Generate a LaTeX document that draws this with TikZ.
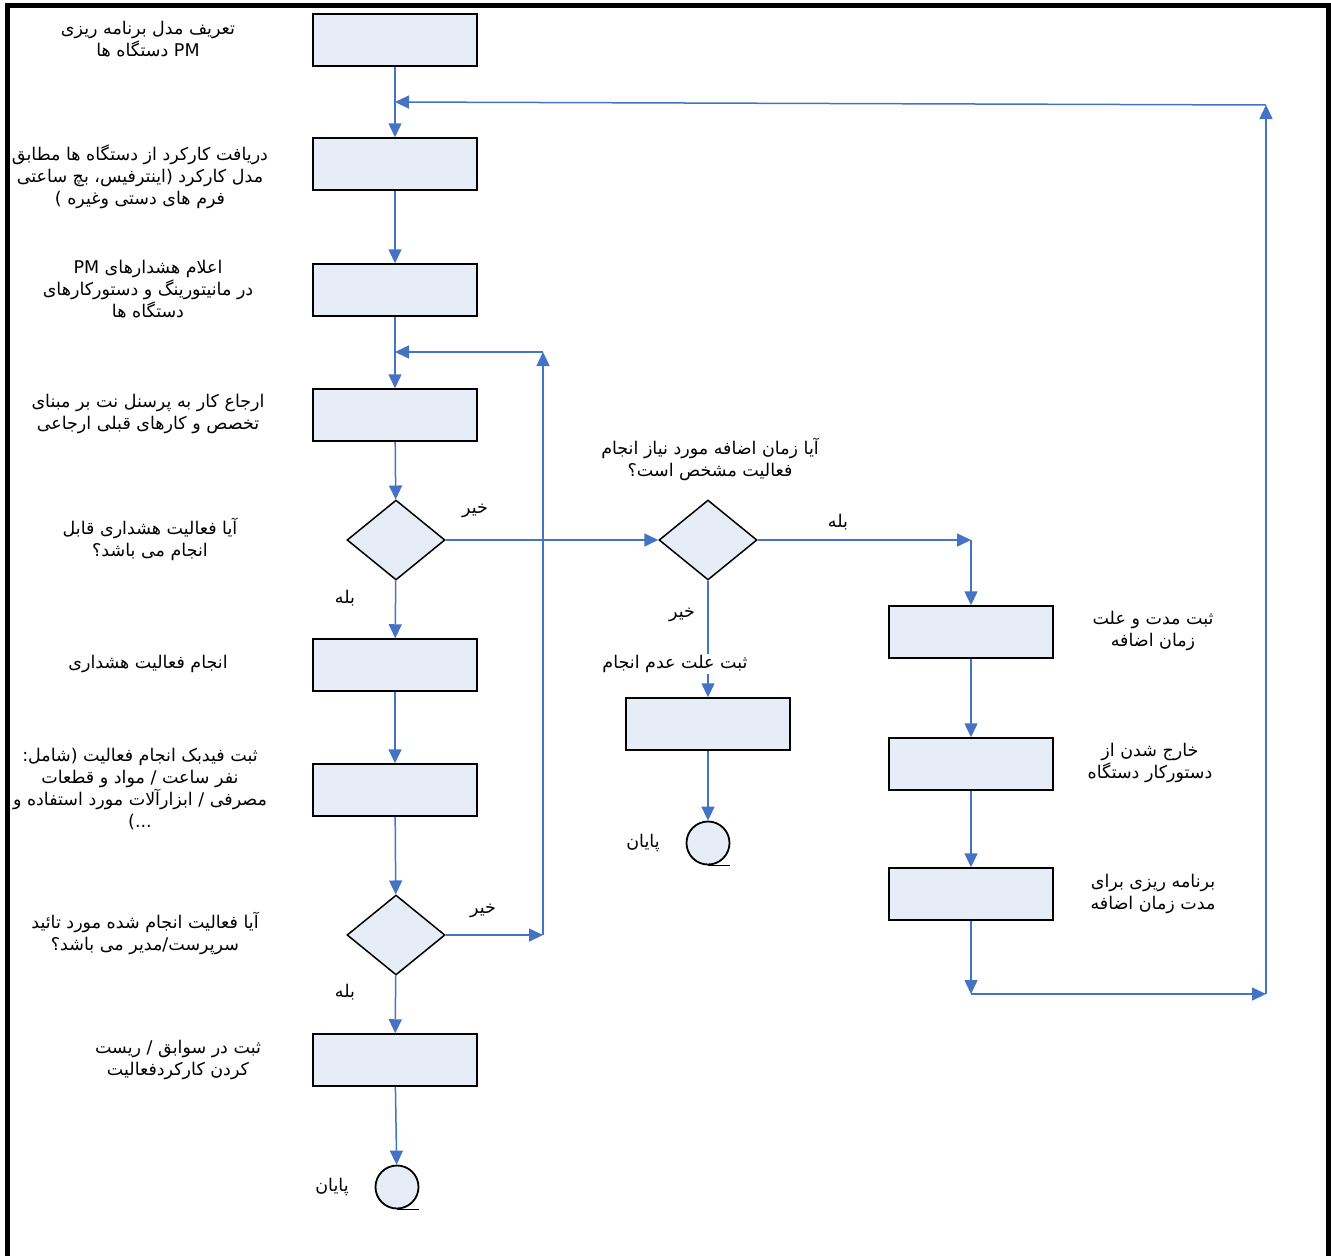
\documentclass[tikz,border=0pt]{standalone}
\usepackage{fontspec}
\usetikzlibrary{shapes.geometric,arrows.meta}
\newfontfamily\arabicfont[Script=Arabic]{DejaVu Sans}
\TeXXeTstate=1
\definecolor{flowblue}{RGB}{68,114,196}
\definecolor{boxfill}{RGB}{230,237,247}
\newcommand{\fa}[1]{\beginR #1\endR}

\begin{document}
\begin{tikzpicture}[x=1pt,y=-1pt,
    box/.style={draw=black, fill=boxfill, line width=1.5pt, minimum width=164pt, minimum height=52pt, inner sep=0pt},
    decision/.style={diamond, draw=black, fill=boxfill, line width=1.5pt, minimum width=98pt, minimum height=80pt, inner sep=0pt},
    stopper/.style={circle, draw=black, fill=boxfill, line width=1.8pt, minimum size=43pt, inner sep=0pt},
    txt/.style={font=\arabicfont\fontsize{17.5}{22}\selectfont, align=center, inner sep=1pt},
    flow/.style={draw=flowblue, line width=1.5pt, -{Triangle[length=14pt,width=13pt]}}]
            \useasboundingbox (0,0) rectangle (1331,1256);

            \node[box] (b1) at (395,40) {};
            \node[box] (b2) at (395,164) {};
            \node[box] (b3) at (395,290) {};
            \node[box] (b4) at (395,415) {};
            \node[decision] (d1) at (396,540) {};
            \node[box] (b5) at (395,665) {};
            \node[box] (b6) at (395,790) {};
            \node[decision] (d2) at (396,935) {};
            \node[box] (b7) at (395,1060) {};
            \node[stopper] (e1) at (397,1187) {};
            \node[decision] (d3) at (708,540) {};
            \node[box] (b8) at (708,724) {};
            \node[stopper] (e2) at (708,843) {};
            \node[box] (b9) at (971,632) {};
            \node[box] (b10) at (971,764) {};
            \node[box] (b11) at (971,894) {};

            \coordinate (j1) at (395,102);
            \coordinate (j2) at (395,352);
            \coordinate (r1) at (543,935);
            \coordinate (r2) at (543,352);
            \coordinate (s1) at (971,540);
            \coordinate (t1) at (971,994);
            \coordinate (t2) at (1266,994);
            \coordinate (t3) at (1266,105);

            \draw[flow] (b1) -- (b2);
            \draw[flow] (b2) -- (b3);
            \draw[flow] (b3) -- (b4);
            \draw[flow] (b4) -- (d1);
            \draw[flow] (d1) -- (b5);
            \draw[flow] (b5) -- (b6);
            \draw[flow] (b6) -- (d2);
            \draw[flow] (d2) -- (b7);
            \draw[flow] (b7) -- (e1);
            \draw[flow] (d2.east) -- (r1);
            \draw[flow] (r1) -- (r2);
            \draw[flow] (r2) -- (j2);
            \draw[flow] (d1) -- (d3);
            \draw[flow] (d3.east) -- (s1);
            \draw[flow] (s1) -- (b9);
            \draw[flow] (d3) -- (b8);
            \draw[flow] (b8) -- (e2);
            \draw[flow] (b9) -- (b10);
            \draw[flow] (b10) -- (b11);
            \draw[flow] (b11) -- (t1);
            \draw[flow] (t1) -- (t2);
            \draw[flow] (t2) -- (t3);
            \draw[flow] (t3) -- (j1);

            \draw[black, line width=1.8pt] (e1.south) -- ++(22,0);
            \draw[black, line width=1.8pt] (e2.south) -- ++(22,0);

            \node[txt] (l1) at (148,39) {\fa{تعریف مدل برنامه ریزی}\\\fa{\beginL PM\endL{} دستگاه ها}};
            \node[txt] (l2) at (140,177) {\fa{دریافت کارکرد از دستگاه ها مطابق}\\\fa{مدل کارکرد (اینترفیس، بچ ساعتی}\\\fa{فرم های دستی وغیره )}};
            \node[txt] (l3) at (148,289) {\fa{اعلام هشدارهای \beginL PM\endL}\\\fa{در مانیتورینگ و دستورکارهای}\\\fa{دستگاه ها}};
            \node[txt] (l4) at (148,414) {\fa{ارجاع کار به پرسنل نت بر مبنای}\\\fa{تخصص و کارهای قبلی ارجاعی}};
            \node[txt] (l5) at (150,539) {\fa{آیا فعالیت هشداری قابل}\\\fa{انجام می باشد؟}};
            \node[txt] (l6) at (148,664) {\fa{انجام فعالیت هشداری}};
            \node[txt] (l7) at (140,789) {\fa{ثبت فیدبک انجام فعالیت (شامل:}\\\fa{نفر ساعت / مواد و قطعات}\\\fa{مصرفی / ابزارآلات مورد استفاده و}\\\fa{...)}};
            \node[txt] (l8) at (145,933) {\fa{آیا فعالیت انجام شده مورد تائید}\\\fa{سرپرست/مدیر می باشد؟}};
            \node[txt] (l9) at (178,1060) {\fa{ثبت در سوابق / ریست}\\\fa{کردن کارکردفعالیت}};
            \node[txt] (lm) at (710,459) {\fa{آیا زمان اضافه مورد نیاز انجام}\\\fa{فعالیت مشخص است؟}};
            \node[txt, fill=white] (lb8) at (675,664) {\fa{ثبت علت عدم انجام}};
            \node[txt] (lr1) at (1153,631) {\fa{ثبت مدت و علت}\\\fa{زمان اضافه}};
            \node[txt] (lr2) at (1150,763) {\fa{خارج شدن از}\\\fa{دستورکار دستگاه}};
            \node[txt] (lr3) at (1153,894) {\fa{برنامه ریزی برای}\\\fa{مدت زمان اضافه}};

            \node[txt] (y1) at (345,598) {\fa{بله}};
            \node[txt] (n1) at (475,511) {\fa{خیر}};
            \node[txt] (y2) at (838,522) {\fa{بله}};
            \node[txt] (n2) at (682,615) {\fa{خیر}};
            \node[txt] (n3) at (483,911) {\fa{خیر}};
            \node[txt] (y3) at (345,992) {\fa{بله}};
            \node[txt] (p1) at (332,1187) {\fa{پایان}};
            \node[txt] (p2) at (643,843) {\fa{پایان}};

            \draw[black, line width=5pt] (7.5,1256) -- (7.5,5) -- (1328.5,5) -- (1328.5,1256);
        \end{tikzpicture}
\end{document}
